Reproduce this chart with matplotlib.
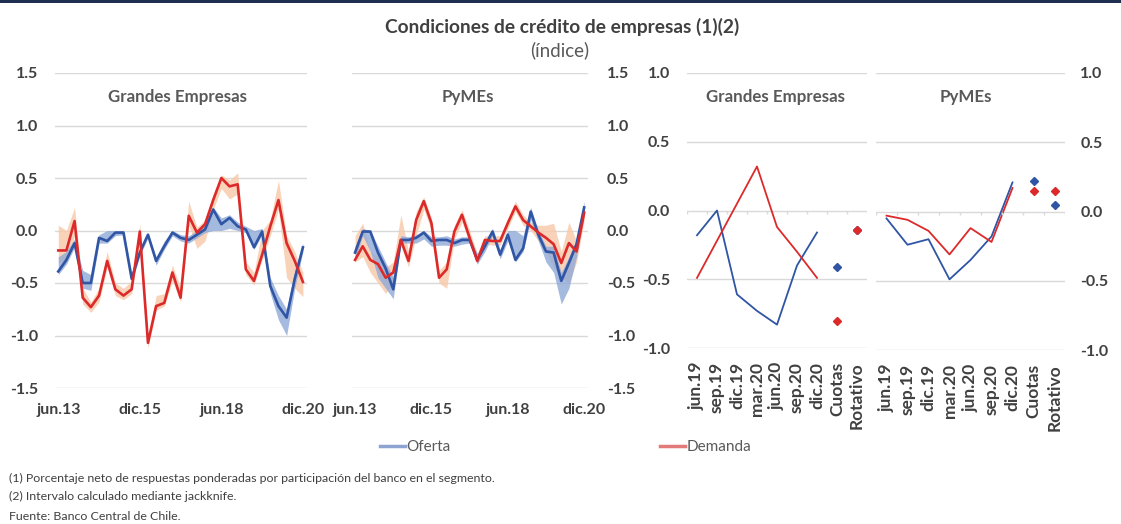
import numpy as np
import matplotlib.pyplot as plt
from matplotlib.lines import Line2D

plt.rcParams['font.family'] = ['Lato', 'DejaVu Sans']

# Quarterly series jun.13 - dic.20 (31 quarters)
q_labels = ['jun.13', 'dic.15', 'jun.18', 'dic.20']
q_label_pos = [0, 10, 20, 30]

ge_oferta = [-0.39, -0.28, -0.12, -0.50, -0.50, -0.07, -0.10, -0.02, -0.02, -0.46,
             -0.21, -0.04, -0.29, -0.15, -0.02, -0.07, -0.09, -0.04, 0.01, 0.20,
             0.06, 0.12, 0.04, 0.01, -0.16, -0.01, -0.53, -0.72, -0.83, -0.46, -0.16]
ge_oferta_lo = [-0.42, -0.32, -0.16, -0.55, -0.57, -0.12, -0.12, -0.05, -0.04, -0.50,
                -0.24, -0.07, -0.33, -0.18, -0.05, -0.10, -0.12, -0.07, -0.02, 0.00,
                0.00, 0.02, 0.00, -0.02, -0.18, -0.04, -0.60, -0.85, -1.00, -0.55, -0.20]
ge_oferta_hi = [-0.25, -0.20, -0.08, -0.38, -0.42, -0.04, 0.00, 0.00, 0.00, -0.40,
                -0.17, -0.02, -0.25, -0.10, 0.00, -0.04, -0.05, 0.00, 0.05, 0.22,
                0.12, 0.15, 0.08, 0.04, 0.00, 0.02, -0.45, -0.62, -0.75, -0.38, -0.12]

ge_demanda = [-0.19, -0.19, 0.09, -0.64, -0.73, -0.62, -0.29, -0.56, -0.62, -0.56,
              -0.01, -1.07, -0.72, -0.69, -0.40, -0.64, 0.14, -0.02, 0.06, 0.29,
              0.50, 0.42, 0.44, -0.37, -0.48, -0.23, 0.04, 0.29, -0.12, -0.29, -0.49]
ge_demanda_lo = [-0.30, -0.30, -0.05, -0.70, -0.78, -0.68, -0.35, -0.62, -0.66, -0.60,
                 -0.10, -1.12, -0.76, -0.72, -0.48, -0.68, 0.05, -0.17, -0.10, 0.20,
                 0.40, 0.30, 0.35, -0.42, -0.52, -0.28, -0.05, 0.20, -0.45, -0.55, -0.63]
ge_demanda_hi = [0.05, 0.00, 0.22, -0.55, -0.68, -0.55, -0.20, -0.50, -0.55, -0.48,
                 0.06, -1.00, -0.62, -0.60, -0.33, -0.55, 0.28, 0.03, 0.10, 0.35,
                 0.53, 0.48, 0.55, -0.30, -0.40, 0.00, 0.10, 0.48, -0.05, -0.20, -0.40]

py_oferta = [-0.21, -0.01, -0.01, -0.21, -0.36, -0.56, -0.09, -0.09, -0.07, -0.02,
             -0.10, -0.09, -0.09, -0.12, -0.09, -0.09, -0.28, -0.15, -0.01, -0.23,
             -0.04, -0.28, -0.17, 0.18, -0.04, -0.20, -0.21, -0.48, -0.31, -0.13, 0.22]
py_oferta_lo = [-0.28, -0.05, -0.20, -0.45, -0.55, -0.65, -0.12, -0.12, -0.12, -0.08,
                -0.15, -0.14, -0.14, -0.15, -0.13, -0.12, -0.32, -0.20, -0.05, -0.27,
                -0.10, -0.30, -0.20, 0.10, -0.10, -0.30, -0.40, -0.70, -0.55, -0.25, 0.15]
py_oferta_hi = [-0.15, 0.02, 0.00, -0.15, -0.30, -0.45, -0.05, -0.06, -0.04, 0.00,
                -0.06, -0.06, -0.05, -0.08, -0.06, -0.06, -0.22, -0.10, 0.02, -0.18,
                0.00, 0.00, -0.05, 0.22, 0.00, -0.15, -0.15, -0.40, -0.25, -0.08, 0.28]

py_demanda = [-0.28, -0.15, -0.28, -0.32, -0.45, -0.40, -0.09, -0.29, 0.10, 0.28,
              0.07, -0.45, -0.37, -0.01, 0.15, -0.07, -0.29, -0.09, -0.10, -0.10,
              0.07, 0.23, 0.10, 0.04, -0.02, -0.07, -0.13, -0.31, -0.12, -0.20, 0.17]
py_demanda_lo = [-0.30, -0.25, -0.40, -0.50, -0.60, -0.50, -0.15, -0.35, -0.05, 0.20,
                 0.00, -0.50, -0.55, -0.08, 0.08, -0.12, -0.32, -0.13, -0.14, -0.14,
                 0.02, 0.18, 0.05, 0.00, -0.10, -0.20, -0.35, -0.45, -0.50, -0.30, 0.10]
py_demanda_hi = [-0.05, 0.07, -0.20, -0.25, -0.35, -0.30, 0.15, -0.20, 0.18, 0.32,
                 0.12, -0.38, -0.30, 0.05, 0.20, 0.00, -0.22, -0.05, -0.05, -0.05,
                 0.12, 0.28, 0.15, 0.08, 0.05, 0.05, 0.07, -0.20, 0.08, -0.10, 0.22]

# Recent quarters + expectations by product
cat_labels = ['jun.19', 'sep.19', 'dic.19', 'mar.20', 'jun.20', 'sep.20', 'dic.20',
              'Cuotas', 'Rotativo']
ge_oferta_rec = [-0.18, 0.00, -0.61, -0.73, -0.83, -0.40, -0.16]
ge_demanda_rec = [-0.49, -0.22, 0.05, 0.32, -0.12, -0.30, -0.49]
ge_oferta_prod = [-0.41, -0.14]
ge_demanda_prod = [-0.80, -0.14]
py_oferta_rec = [-0.05, -0.24, -0.20, -0.49, -0.35, -0.18, 0.21]
py_demanda_rec = [-0.03, -0.06, -0.14, -0.31, -0.12, -0.22, 0.17]
py_oferta_prod = [0.22, 0.05]
py_demanda_prod = [0.15, 0.15]

BLUE = '#2F55A4'
RED = '#DC2A2A'
BLUE_BAND = '#8FA9D8'
RED_BAND = '#F8C9A8'
GRID = '#D9D9D9'
TXT = '#404040'
FS = 11.5

W, H = 1121, 524
fig = plt.figure(figsize=(W / 100, H / 100), dpi=100)


def px(x0, y0, x1, y1):
    return [x0 / W, 1 - y1 / H, (x1 - x0) / W, (y1 - y0) / H]


def style(ax, ylim, step, right=False, pad=11):
    ax.set_ylim(*ylim)
    ax.set_yticks(np.arange(ylim[0], ylim[1] + 0.01, step))
    ax.yaxis.set_major_formatter(plt.FormatStrFormatter('%.1f'))
    ax.grid(axis='y', color=GRID, lw=1)
    ax.set_axisbelow(True)
    for s in ax.spines.values():
        s.set_visible(False)
    ax.tick_params(axis='both', length=0, colors=TXT, labelsize=FS)
    ax.tick_params(axis='y', pad=pad)
    if right:
        ax.yaxis.tick_right()
    for lab in ax.get_yticklabels() + ax.get_xticklabels():
        lab.set_fontweight('bold')


def long_panel(ax, of, of_lo, of_hi, de, de_lo, de_hi, right):
    x = np.arange(len(of))
    ax.fill_between(x, de_lo, de_hi, color=RED_BAND, alpha=0.8, lw=0)
    ax.fill_between(x, of_lo, of_hi, color=BLUE_BAND, alpha=0.8, lw=0)
    ax.plot(x, of, color=BLUE, lw=1.9)
    ax.plot(x, de, color=RED, lw=1.9)
    ax.set_xlim(-0.4, 30.5)
    ax.set_xticks(q_label_pos)
    ax.set_xticklabels(q_labels)
    ax.tick_params(axis='x', pad=11)
    style(ax, (-1.5, 1.5), 0.5, right=right, pad=12 if not right else 13.7)


def short_panel(ax, of, de, of_p, de_p, right):
    n = len(of)
    x = np.arange(n)
    xp = np.arange(n, n + len(of_p))
    ax.plot(x, of, color=BLUE, lw=1.3)
    ax.plot(x, de, color=RED, lw=1.3)
    ax.plot(xp, of_p, 'D', color=BLUE, ms=4, ls='none')
    ax.plot(xp, de_p, 'D', color=RED, ms=4, ls='none')
    ax.vlines(np.arange(len(cat_labels) + 1) - 0.5, -0.025, 0, color=GRID, lw=1)
    ax.set_xlim(-0.5, 8.5)
    ax.set_xticks(np.arange(len(cat_labels)))
    ax.set_xticklabels(cat_labels, rotation=90)
    ax.tick_params(axis='x', pad=10)
    style(ax, (-1.0, 1.0), 0.5, right=right, pad=12 if not right else 11)
    for lab in ax.get_xticklabels():
        lab.set_fontsize(12.5)


ax1 = fig.add_axes(px(55, 73, 307, 388))
long_panel(ax1, ge_oferta, ge_oferta_lo, ge_oferta_hi,
           ge_demanda, ge_demanda_lo, ge_demanda_hi, right=False)
ax2 = fig.add_axes(px(352, 73, 588, 388))
long_panel(ax2, py_oferta, py_oferta_lo, py_oferta_hi,
           py_demanda, py_demanda_lo, py_demanda_hi, right=True)
ax3 = fig.add_axes(px(687, 73, 867, 348))
short_panel(ax3, ge_oferta_rec, ge_demanda_rec, ge_oferta_prod, ge_demanda_prod, right=False)
ax4 = fig.add_axes(px(876, 73, 1065, 350))
short_panel(ax4, py_oferta_rec, py_demanda_rec, py_oferta_prod, py_demanda_prod, right=True)

# panel titles
for xc, t in [(177, 'Grandes Empresas'), (468, 'PyMEs'), (775, 'Grandes Empresas'), (966, 'PyMEs')]:
    fig.text(xc / W, 1 - 97 / H, t, ha='center', va='center', fontsize=12.2,
             fontweight='bold', color='#595959')

fig.text(562 / W, 1 - 27 / H, 'Condiciones de crédito de empresas (1)(2)', ha='center',
         va='center', fontsize=13.8, fontweight='bold', color='#404040')
fig.text(560 / W, 1 - 50 / H, '(índice)', ha='center', va='center', fontsize=13.5,
         color='#595959')

# legend
leg1 = fig.legend(handles=[Line2D([], [], color='#8EA3D2', lw=2.5)], labels=['Oferta'],
                  loc='center left', bbox_to_anchor=(366 / W, 1 - 447 / H), frameon=False,
                  handlelength=1.65, handletextpad=0.1, fontsize=11)
leg2 = fig.legend(handles=[Line2D([], [], color='#E27A7A', lw=2.5)], labels=['Demanda'],
                  loc='center left', bbox_to_anchor=(646 / W, 1 - 447 / H), frameon=False,
                  handlelength=1.65, handletextpad=0.1, fontsize=11)
for lg in (leg1, leg2):
    for t in lg.get_texts():
        t.set_color('#595959')

notes = ['(1) Porcentaje neto de respuestas ponderadas por participación del banco en el segmento.',
         '(2) Intervalo calculado mediante jackknife.',
         'Fuente: Banco Central de Chile.']
for yy, t in zip([478, 496, 516], notes):
    fig.text(9 / W, 1 - yy / H, t, ha='left', va='center', fontsize=8.9, color='#404040')

# top border
fig.add_artist(plt.Rectangle((0, 1 - 3 / H), 1, 3 / H, transform=fig.transFigure,
                             color='#1F2F4F', lw=0))

fig.savefig('out.png', dpi=100)
